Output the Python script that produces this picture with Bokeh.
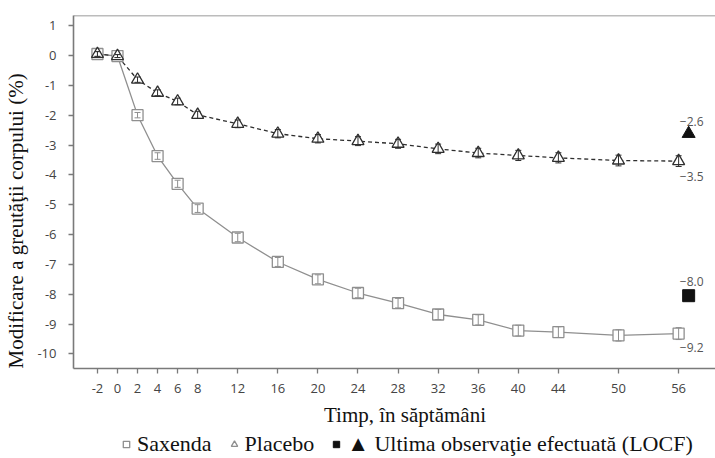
import math
from bokeh.plotting import figure
from bokeh.layouts import column
from bokeh.models import (ColumnDataSource, Whisker, TeeHead, FixedTicker, Span,
                          Legend, LegendItem, Range1d, PrintfTickFormatter)
from bokeh.core.properties import value
from bokeh.embed import file_html
from bokeh.resources import INLINE

# ---- data ----
weeks = [-2, 0, 2, 4, 6, 8, 12, 16, 20, 24, 28, 32, 36, 40, 44, 50, 56]
saxenda = [0.05, -0.02, -2.0, -3.37, -4.3, -5.13, -6.1, -6.92, -7.5, -7.96,
           -8.3, -8.68, -8.86, -9.22, -9.27, -9.38, -9.32]
saxenda_se = [0.08, 0.05, 0.09, 0.11, 0.12, 0.13, 0.14, 0.15, 0.15, 0.16,
              0.16, 0.17, 0.17, 0.18, 0.18, 0.19, 0.2]
placebo = [0.05, -0.02, -0.81, -1.25, -1.54, -1.99, -2.29, -2.62, -2.79, -2.87,
           -2.96, -3.13, -3.27, -3.35, -3.43, -3.52, -3.54]
placebo_se = [0.08, 0.05, 0.09, 0.1, 0.11, 0.12, 0.13, 0.14, 0.14, 0.15,
              0.15, 0.16, 0.16, 0.17, 0.17, 0.18, 0.18]
locf_week = [57]
locf_saxenda = [-8.05]
locf_placebo = [-2.62]
end_label_x = [57, 57, 57, 57]
end_label_y = [locf_placebo[0], placebo[-1], locf_saxenda[0], saxenda[-1]]
end_labels = ["\u22122.6", "\u22123.5", "\u22128.0", "\u22129.2"]
x_ticks = [-2, 0, 2, 4, 6, 8, 12, 16, 20, 24, 28, 32, 36, 40, 44, 50, 56]
y_ticks = [1, 0, -1, -2, -3, -4, -5, -6, -7, -8, -9, -10]
x_title = "Timp, în săptămâni"
y_title = "Modificare a greutăţii corpului (%)"
legend_labels = ["Saxenda", "Placebo", "\u25b2 Ultima observaţie efectuată (LOCF)"]

SANS = "Open Sans"
SERIF = "Liberation Serif"
AXIS_C = "#7a7a7a"
SAX_C = "#8f8f8f"
PLA_C = "#2e2e2e"
NBSP = "\u00a0"

p = figure(width=715, height=432, output_backend="svg", toolbar_location=None,
           x_range=Range1d(-4.39, 59.68), y_range=Range1d(-10.49, 1.34),
           min_border_left=73, min_border_right=0, min_border_top=15,
           min_border_bottom=64)
p.outline_line_color = None
p.xgrid.visible = False
p.ygrid.visible = False

for ax, ticks in ((p.xaxis[0], x_ticks), (p.yaxis[0], y_ticks)):
    ax.ticker = FixedTicker(ticks=ticks)
    ax.formatter = PrintfTickFormatter(format="%d")
    ax.axis_line_color = AXIS_C
    ax.axis_line_width = 1.6
    ax.major_tick_line_color = AXIS_C
    ax.major_tick_line_width = 1.3
    ax.major_tick_out = 5
    ax.major_tick_in = 0
    ax.minor_tick_line_color = None
    ax.major_label_text_font = SANS
    ax.major_label_text_font_size = "13px"
    ax.major_label_text_color = "#444444"
    ax.axis_label_text_font = SERIF
    ax.axis_label_text_font_size = "21px"
    ax.axis_label_text_font_style = "normal"
    ax.axis_label_text_color = "#111111"
p.xaxis.major_label_standoff = 10
p.yaxis.major_label_standoff = 12
# non-breaking spaces nudge the centred titles to where the reference has them
p.xaxis.axis_label = NBSP * 4 + x_title
p.yaxis.axis_label = y_title + NBSP * 11
p.xaxis.axis_label_standoff = 7
p.yaxis.axis_label_standoff = 6

# top border line
p.add_layout(Span(location=p.y_range.end, dimension="width",
                  line_color=AXIS_C, line_width=1.6))

sax_src = ColumnDataSource(dict(x=weeks, y=saxenda,
                                lo=[v - e for v, e in zip(saxenda, saxenda_se)],
                                hi=[v + e for v, e in zip(saxenda, saxenda_se)]))
pla_src = ColumnDataSource(dict(x=weeks, y=placebo,
                                lo=[v - e for v, e in zip(placebo, placebo_se)],
                                hi=[v + e for v, e in zip(placebo, placebo_se)]))

p.line("x", "y", source=sax_src, line_color=SAX_C, line_width=1.3)
p.line("x", "y", source=pla_src, line_color=PLA_C, line_width=1.3, line_dash="4 3")

p.scatter("x", "y", source=sax_src, marker="square", size=11,
          fill_color="white", line_color=SAX_C, line_width=1.3)
p.scatter("x", "y", source=pla_src, marker="triangle", size=12,
          fill_color="white", line_color=PLA_C, line_width=1.3)

p.add_layout(Whisker(source=sax_src, base="x", lower="lo", upper="hi",
                     line_color=SAX_C, line_width=1, level="overlay",
                     upper_head=TeeHead(size=6, line_color=SAX_C, line_width=1),
                     lower_head=TeeHead(size=6, line_color=SAX_C, line_width=1)))
p.add_layout(Whisker(source=pla_src, base="x", lower="lo", upper="hi",
                     line_color=PLA_C, line_width=1, level="overlay",
                     upper_head=TeeHead(size=6, line_color=PLA_C, line_width=1),
                     lower_head=TeeHead(size=6, line_color=PLA_C, line_width=1)))

p.scatter(locf_week, locf_saxenda, marker="square", size=12,
          fill_color="#111111", line_color="#111111")
p.scatter(locf_week, locf_placebo, marker="triangle", size=13,
          fill_color="#111111", line_color="#111111")

p.text(x=end_label_x, y=end_label_y, text=end_labels,
       x_offset=[3, 3, 3, 3], y_offset=[-12, 15, -14, 14],
       text_font=value(SANS), text_font_size="12px", text_color="#555555",
       text_align="center", text_baseline="middle")

# ---- legend strip (separate small figure below the chart) ----
lg = figure(width=715, height=26, output_backend="svg", toolbar_location=None,
            x_range=Range1d(100, 101), y_range=Range1d(100, 101),
            min_border=0)
lg.axis.visible = False
lg.grid.visible = False
lg.outline_line_color = None
r1 = lg.scatter(weeks[:1], saxenda[:1], marker="square", size=10,
                fill_color="white", line_color=SAX_C, line_width=1.3)
r2 = lg.scatter(weeks[:1], placebo[:1], marker="triangle", size=11,
                fill_color="white", line_color=SAX_C, line_width=1.3)
r3 = lg.scatter(locf_week, locf_saxenda, marker="square", size=12,
                fill_color="#111111", line_color="#111111")
legend = Legend(items=[LegendItem(label=legend_labels[0], renderers=[r1]),
                       LegendItem(label=legend_labels[1], renderers=[r2]),
                       LegendItem(label=legend_labels[2], renderers=[r3])],
                orientation="horizontal", location=(45, 1), padding=0, margin=0,
                spacing=14, label_standoff=3, glyph_width=16, glyph_height=22,
                label_text_font=SERIF, label_text_font_size="22px",
                label_text_color="#111111", border_line_color=None,
                background_fill_alpha=0)
lg.add_layout(legend)

layout = column(p, lg, spacing=0)
open("out.html", "w").write(file_html(layout, INLINE))
